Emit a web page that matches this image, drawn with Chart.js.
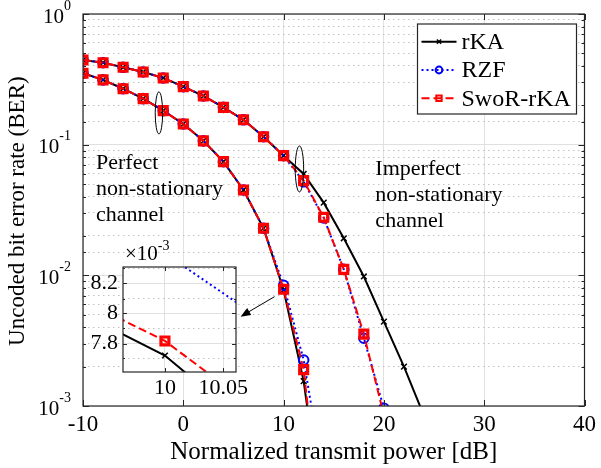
<!DOCTYPE html>
<html>
<head>
<meta charset="utf-8">
<script src="https://cdn.jsdelivr.net/npm/chart.js@4.4.1/dist/chart.umd.min.js"></script>
<style>
  html, body { margin: 0; padding: 0; background: #fff; }
  #wrap { position: relative; width: 601px; height: 468px; }
  #main { position: absolute; left: 0; top: 0; }
  #inset { position: absolute; left: 60px; top: 240px; }
</style>
</head>
<body>
<div id="wrap">
  <canvas id="main" width="601" height="468"></canvas>
  <canvas id="inset" width="200" height="170"></canvas>
</div>
<script>
// transmit power (dB), one marker every 2 dB
const powerDb = [-10, -8, -6, -4, -2, 0, 2, 4, 6, 8, 10, 12, 14, 16, 18, 20, 22, 24];

// imperfect non-stationary channel
const rkaImperfect  = [0.445, 0.424, 0.391, 0.36, 0.324, 0.278, 0.236, 0.193, 0.155, 0.115, 0.0824, 0.0597, 0.036, 0.0192, 0.0098, 0.00442, 0.0020, 0.00084];
const rzfImperfect  = [0.445, 0.424, 0.391, 0.36, 0.324, 0.278, 0.236, 0.193, 0.155, 0.115, 0.0824, 0.052, 0.0275, 0.0111, 0.0033, 0.00096];
const sworImperfect = [0.445, 0.424, 0.391, 0.36, 0.324, 0.278, 0.236, 0.193, 0.155, 0.115, 0.0824, 0.0531, 0.0278, 0.0111, 0.00355, 0.00085];

// perfect non-stationary channel
const rkaPerfect  = [0.352, 0.313, 0.268, 0.225, 0.182, 0.144, 0.107, 0.0741, 0.045, 0.0229, 0.00772, 0.00155, 0.00012];
const rzfPerfect  = [0.352, 0.313, 0.268, 0.225, 0.182, 0.144, 0.107, 0.0741, 0.045, 0.0229, 0.0084, 0.00225, 0.00027];
const sworPerfect = [0.352, 0.313, 0.268, 0.225, 0.182, 0.144, 0.107, 0.0741, 0.045, 0.0229, 0.00782, 0.0019, 0.00008];

const seriesNames = ['rKA', 'RZF', 'SwoR-rKA'];
const xTicks = [-10, 0, 10, 20, 30, 40];

// zoomed view around 10 dB (perfect channel)
const insetPower = [9.95, 10, 10.05, 10.1];
const insetRka  = [7.915e-3, 7.72e-3, 7.395e-3, 7.07e-3];
const insetRzf  = [8.6e-3, 8.40e-3, 8.135e-3, 7.87e-3];
const insetSwor = [8.009e-3, 7.817e-3, 7.527e-3, 7.24e-3];
const insetXTicks = [10, 10.05];
const insetXLabels = ['10', '10.05'];
const insetYTicks = [7.7e-3, 7.8e-3, 7.9e-3, 8.0e-3, 8.1e-3, 8.2e-3, 8.3e-3];
const insetYLabels = ['', '7.8', '', '8', '', '8.2', ''];

const FONT = '"Liberation Serif", "DejaVu Serif", serif';
Chart.defaults.font.family = FONT;
Chart.defaults.color = '#000';

const look = [
  { color: '#000000', dash: [], point: 'crossRot', r: 4, pw: 1.5, order: 2 },
  { color: '#0000ff', dash: [2, 3], point: 'circle', r: 4.8, pw: 2, order: 1 },
  { color: '#ff0000', dash: [8, 4], point: 'rect', r: 5.6, pw: 3.2, order: 0 }
];

function pts(xs, ys) {
  return ys.map((y, i) => ({ x: xs[i], y: y }));
}

function makeSet(k, data, extra) {
  const s = look[k];
  return Object.assign({
    label: seriesNames[k],
    data: data,
    borderColor: s.color,
    borderWidth: 2,
    borderDash: s.dash,
    pointStyle: s.point,
    pointRadius: s.r,
    pointBorderWidth: s.pw,
    pointBorderColor: s.color,
    pointBackgroundColor: 'rgba(0,0,0,0)',
    tension: 0,
    fill: false,
    order: s.order
  }, extra || {});
}

function isDecade(v) {
  const e = Math.log10(v);
  return Math.abs(e - Math.round(e)) < 1e-6;
}

function drawMarker(ctx, k, x, y, r, lw) {
  const s = look[k];
  ctx.save();
  ctx.setLineDash([]);
  ctx.strokeStyle = s.color;
  ctx.lineWidth = lw;
  ctx.beginPath();
  if (s.point === 'circle') {
    ctx.arc(x, y, r, 0, Math.PI * 2);
  } else if (s.point === 'rect') {
    const h = r * Math.SQRT1_2;
    ctx.rect(x - h, y - h, 2 * h, 2 * h);
  } else {
    const h = r * Math.SQRT1_2;
    ctx.moveTo(x - h, y - h); ctx.lineTo(x + h, y + h);
    ctx.moveTo(x + h, y - h); ctx.lineTo(x - h, y + h);
  }
  ctx.stroke();
  ctx.restore();
}

function drawBox(ctx, a, color) {
  ctx.save();
  ctx.strokeStyle = color;
  ctx.lineWidth = 1.2;
  ctx.setLineDash([]);
  ctx.strokeRect(a.left, a.top, a.right - a.left, a.bottom - a.top);
  ctx.restore();
}

const mainDecor = {
  id: 'mainDecor',
  beforeDraw(chart) {
    const ctx = chart.ctx;
    ctx.save();
    ctx.fillStyle = '#fff';
    ctx.fillRect(0, 0, chart.width, chart.height);
    ctx.restore();
  },
  afterDatasetsDraw(chart) {
    const ctx = chart.ctx, a = chart.chartArea;
    const xs = chart.scales.x, ys = chart.scales.y;
    drawBox(ctx, a, '#262626');
    ctx.save();
    ctx.strokeStyle = '#262626';
    ctx.lineWidth = 1;
    ctx.beginPath();
    ys.ticks.forEach(t => {
      const py = Math.round(ys.getPixelForValue(t.value)) + 0.5;
      const len = isDecade(t.value) ? 6 : 3;
      ctx.moveTo(a.left, py); ctx.lineTo(a.left + len, py);
      ctx.moveTo(a.right, py); ctx.lineTo(a.right - len, py);
    });
    xs.ticks.forEach(t => {
      const px = Math.round(xs.getPixelForValue(t.value)) + 0.5;
      ctx.moveTo(px, a.top); ctx.lineTo(px, a.top + 6);
      ctx.moveTo(px, a.bottom); ctx.lineTo(px, a.bottom - 6);
    });
    ctx.stroke();
    ctx.restore();
  },
  afterDraw(chart) {
    const ctx = chart.ctx, a = chart.chartArea;
    const xs = chart.scales.x, ys = chart.scales.y;
    ctx.save();
    ctx.fillStyle = '#000';

    // y tick labels 10^k
    ys.ticks.filter(t => isDecade(t.value)).forEach(t => {
      const py = ys.getPixelForValue(t.value);
      const k = Math.round(Math.log10(t.value));
      const ex = String(k);
      ctx.font = '14px ' + FONT;
      const ew = ctx.measureText(ex).width;
      const right = a.left - 12;
      ctx.textAlign = 'left';
      ctx.textBaseline = 'middle';
      ctx.fillText(ex, right - ew, py - 8);
      ctx.font = '21px ' + FONT;
      ctx.textAlign = 'right';
      ctx.fillText('10', right - ew, py + 3);
    });

    // y axis title
    ctx.save();
    ctx.font = '23px ' + FONT;
    ctx.textAlign = 'center';
    ctx.textBaseline = 'middle';
    ctx.translate(18, ys.getPixelForValue(0.031));
    ctx.rotate(-Math.PI / 2);
    ctx.fillText('Uncoded bit error rate (BER)', 0, 0);
    ctx.restore();

    // annotation text
    ctx.font = '22px ' + FONT;
    ctx.textAlign = 'left';
    ctx.textBaseline = 'alphabetic';
    const px1 = xs.getPixelForValue(-8.7), py1 = ys.getPixelForValue(0.0648);
    ['Perfect', 'non-stationary', 'channel'].forEach((s, i) => ctx.fillText(s, px1, py1 + i * 26));
    const px2 = xs.getPixelForValue(19.15), py2 = ys.getPixelForValue(0.0586);
    ['Imperfect', 'non-stationary', 'channel'].forEach((s, i) => ctx.fillText(s, px2, py2 + i * 26));

    // ellipses grouping the curves
    ctx.strokeStyle = '#000';
    ctx.lineWidth = 1;
    ctx.beginPath();
    ctx.ellipse(xs.getPixelForValue(-2.43), ys.getPixelForValue(0.175), 3.7, 21, 0, 0, Math.PI * 2);
    ctx.stroke();
    ctx.beginPath();
    ctx.ellipse(xs.getPixelForValue(11.58), ys.getPixelForValue(0.0652), 4.2, 23, 0, 0, Math.PI * 2);
    ctx.stroke();

    // arrow to the inset
    const ax0 = xs.getPixelForValue(9.1), ay0 = ys.getPixelForValue(0.00687);
    const ax1 = xs.getPixelForValue(5.71), ay1 = ys.getPixelForValue(0.00483);
    const ang = Math.atan2(ay1 - ay0, ax1 - ax0);
    ctx.beginPath();
    ctx.moveTo(ax0, ay0); ctx.lineTo(ax1 - 6 * Math.cos(ang), ay1 - 6 * Math.sin(ang));
    ctx.stroke();
    ctx.beginPath();
    ctx.moveTo(ax1, ay1);
    ctx.lineTo(ax1 - 10 * Math.cos(ang) + 4 * Math.sin(ang), ay1 - 10 * Math.sin(ang) - 4 * Math.cos(ang));
    ctx.lineTo(ax1 - 10 * Math.cos(ang) - 4 * Math.sin(ang), ay1 - 10 * Math.sin(ang) + 4 * Math.cos(ang));
    ctx.closePath();
    ctx.fill();

    // legend
    const lx = a.right - 167, ly = a.top + 10, lw = 159, lh = 90;
    ctx.fillStyle = '#fff';
    ctx.fillRect(lx, ly, lw, lh);
    ctx.strokeStyle = '#262626';
    ctx.lineWidth = 1.2;
    ctx.strokeRect(lx, ly, lw, lh);
    seriesNames.forEach((name, k) => {
      const y = ly + 17.7 + k * 28.3;
      ctx.save();
      ctx.strokeStyle = look[k].color;
      ctx.lineWidth = 2;
      ctx.setLineDash(look[k].dash);
      ctx.beginPath();
      ctx.moveTo(lx + 4, y); ctx.lineTo(lx + 39, y);
      ctx.stroke();
      ctx.restore();
      drawMarker(ctx, k, lx + 21.5, y, k === 0 ? 3 : (k === 1 ? 3.4 : 3.8), k === 0 ? 1.5 : 2);
      ctx.fillStyle = '#000';
      ctx.font = '24px ' + FONT;
      ctx.textAlign = 'left';
      ctx.textBaseline = 'middle';
      ctx.fillText(name, lx + 44, y + 1);
    });
    ctx.restore();
  }
};

new Chart(document.getElementById('main'), {
  type: 'line',
  data: {
    datasets: [
      makeSet(0, pts(powerDb, rkaImperfect)),
      makeSet(1, pts(powerDb, rzfImperfect)),
      makeSet(2, pts(powerDb, sworImperfect)),
      makeSet(0, pts(powerDb, rkaPerfect)),
      makeSet(1, pts(powerDb, rzfPerfect)),
      makeSet(2, pts(powerDb, sworPerfect))
    ]
  },
  options: {
    responsive: false,
    animation: false,
    devicePixelRatio: 1,
    layout: { padding: { top: 14, right: 13, left: 0, bottom: 0 } },
    plugins: { legend: { display: false }, tooltip: { enabled: false } },
    scales: {
      x: {
        type: 'linear', min: -10, max: 40,
        afterBuildTicks: s => { s.ticks = xTicks.map(v => ({ value: v })); },
        ticks: { color: '#000', font: { size: 23 }, padding: 5, maxRotation: 0 },
        grid: { color: '#e0e0e0', lineWidth: 1, drawTicks: false },
        border: { display: false },
        title: { display: true, text: 'Normalized transmit power [dB]', color: '#000', font: { size: 25 }, padding: { top: 0, bottom: 1 } },
        afterFit: s => { s.height = 62; }
      },
      y: {
        type: 'logarithmic', min: 1e-3, max: 1,
        ticks: { display: false, autoSkip: false },
        grid: {
          color: c => (c.tick && isDecade(c.tick.value)) ? '#e0e0e0' : '#c2c2c2',
          lineWidth: 1, drawTicks: false
        },
        border: { display: false, dash: c => (c.tick && isDecade(c.tick.value)) ? [] : [1.5, 3.5] },
        afterFit: s => { s.width = 83; }
      }
    }
  },
  plugins: [mainDecor]
});

// inset
const insetDecor = {
  id: 'insetDecor',
  beforeDraw(chart) {
    const ctx = chart.ctx, a = chart.chartArea;
    ctx.save();
    ctx.fillStyle = '#fff';
    ctx.fillRect(a.left, a.top, a.right - a.left, a.bottom - a.top);
    ctx.restore();
  },
  afterDraw(chart) {
    const ctx = chart.ctx, a = chart.chartArea;
    const xs = chart.scales.x, ys = chart.scales.y;
    drawBox(ctx, a, '#262626');
    ctx.save();
    ctx.strokeStyle = '#262626';
    ctx.lineWidth = 1;
    ctx.beginPath();
    ys.ticks.forEach((t, i) => {
      const py = Math.round(ys.getPixelForValue(t.value)) + 0.5;
      const len = insetYLabels[i] ? 4 : 2;
      ctx.moveTo(a.left, py); ctx.lineTo(a.left + len, py);
      ctx.moveTo(a.right, py); ctx.lineTo(a.right - len, py);
    });
    xs.ticks.forEach(t => {
      const px = Math.round(xs.getPixelForValue(t.value)) + 0.5;
      ctx.moveTo(px, a.top); ctx.lineTo(px, a.top + 4);
      ctx.moveTo(px, a.bottom); ctx.lineTo(px, a.bottom - 4);
    });
    ctx.stroke();
    // x10^-3 multiplier
    ctx.fillStyle = '#000';
    ctx.textAlign = 'left';
    ctx.textBaseline = 'middle';
    ctx.font = '21px ' + FONT;
    const base = '\u00d710';
    ctx.fillText(base, a.left + 2, a.top - 13);
    const bw = ctx.measureText(base).width;
    ctx.font = '14px ' + FONT;
    ctx.fillText('-3', a.left + 2 + bw, a.top - 21);
    ctx.restore();
  }
};

const insetMarker = r => c => (c.raw && c.raw.x === 10) ? r : 0;

new Chart(document.getElementById('inset'), {
  type: 'line',
  data: {
    datasets: [
      makeSet(0, pts(insetPower, insetRka), { pointRadius: insetMarker(4) }),
      makeSet(1, pts(insetPower, insetRzf), { pointRadius: insetMarker(4.8) }),
      makeSet(2, pts(insetPower, insetSwor), { pointRadius: insetMarker(5.6) })
    ]
  },
  options: {
    responsive: false,
    animation: false,
    devicePixelRatio: 1,
    layout: { padding: { top: 27, right: 24, left: 0, bottom: 0 } },
    plugins: { legend: { display: false }, tooltip: { enabled: false } },
    scales: {
      x: {
        type: 'linear', min: 9.964, max: 10.061,
        afterBuildTicks: s => { s.ticks = insetXTicks.map(v => ({ value: v })); },
        ticks: { color: '#000', font: { size: 22 }, padding: 3, maxRotation: 0, autoSkip: false,
                 callback: (v, i) => insetXLabels[i] },
        grid: { color: '#e0e0e0', drawTicks: false },
        border: { display: false },
        afterFit: s => { s.height = 38; }
      },
      y: {
        type: 'linear', min: 7.61e-3, max: 8.31e-3,
        afterBuildTicks: s => { s.ticks = insetYTicks.map(v => ({ value: v })); },
        ticks: { color: '#000', font: { size: 22 }, padding: 5, autoSkip: false,
                 callback: (v, i) => insetYLabels[i] },
        grid: {
          color: c => (c.index !== undefined && insetYLabels[c.index]) ? '#e0e0e0' : '#c2c2c2',
          drawTicks: false
        },
        border: { display: false, dash: c => (c.index !== undefined && insetYLabels[c.index]) ? [] : [1.5, 3.5] },
        afterFit: s => { s.width = 63; }
      }
    }
  },
  plugins: [insetDecor]
});
</script>
</body>
</html>
